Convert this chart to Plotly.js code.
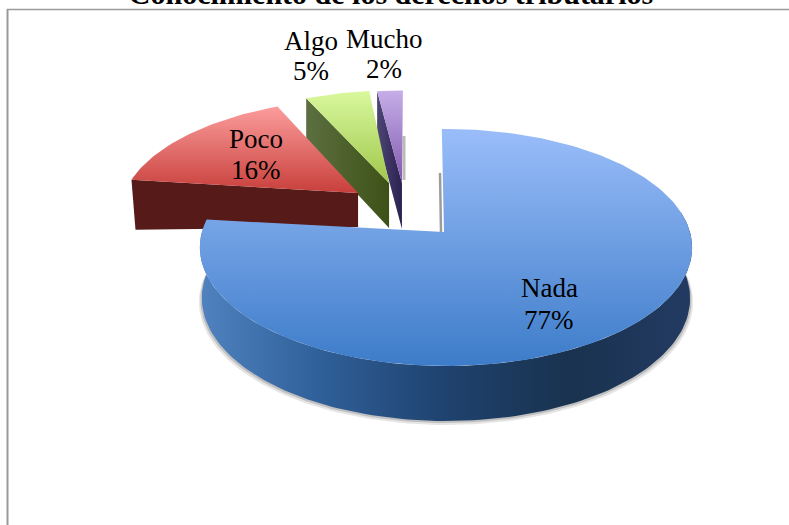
<!DOCTYPE html>
<html><head><meta charset="utf-8">
<script src="https://cdn.plot.ly/plotly-3.0.1.min.js"></script>
<style>html,body{margin:0;padding:0;background:#fff;overflow:hidden}</style>
</head><body><div id="chart" style="width:789px;height:525px"></div>
<script>
// Data
const categories = ["Nada", "Poco", "Algo", "Mucho"];
const values = [77, 16, 5, 2];
const chartTitle = "Conocimiento de los derechos tributarios";

// Styles
const topColors = [["#9abdf9","#3d7cc9"],["#fb9d9c","#c83f3b"],["#d9f89d","#a0c74c"],["#c6aee8","#8058ae"]];
const sideColors = [["#4f82bf","#2f5f98","#1f426e","#19324f","#233b62"],["#561b18","#561b18"],["#5c6f40","#3d5117"],["#4d4674","#2b2150"]];
const TEXT_FONT = "Liberation Serif";

// Projection of the tilted pie plane onto the drawing area
const view = {x0:443, y0:232, a:244, k:116.5, p:0.1308};
const pullOffsets = [[0.012,0],[-0.364,0.35],[-0.234,0.445],[-0.178,0.445]];
const rotations = [-1,0,0,-1];
const depths = [null,[50,34,4],[41,45,0],[45,46,0]];
const labelAt = [[549,288,320],[256,139,170],[311,41,71],[384,39,69]];

function project(u,v){const d=1+view.p*v;return [view.x0+view.a*u/d, view.y0-view.k*v/d];}
function rimPoint(deg,off){const r=deg*Math.PI/180;return project(Math.sin(r)+off[0],Math.cos(r)+off[1]);}
function arc(a0,a1,off){const n=Math.max(4,Math.ceil(Math.abs(a1-a0)/1.5));const o=[];for(let i=0;i<=n;i++)o.push(rimPoint(a0+(a1-a0)*i/n,off));return o;}
function scale(cols){return cols.map((c,i)=>[i/(cols.length-1),c]);}
function poly(pts,grad,extra){
  const t={type:"scatter",mode:"lines",x:pts.map(p=>p[0]).concat(pts[0][0]),y:pts.map(p=>p[1]).concat(pts[0][1]),
    fill:"toself",line:{width:0},hoverinfo:"skip",showlegend:false};
  if(grad)t.fillgradient=grad;
  return Object.assign(t,extra||{});
}
function nadaBottom(p,deg){
  const v=Math.cos(deg*Math.PI/180);
  return [view.x0+3+(p[0]-view.x0-3)*0.992, p[1]+50+5*Math.max(0,-v)];
}

const total=values.reduce((a,b)=>a+b,0);
const spans=[];let acc=0;values.forEach((v,i)=>{const s=acc/total*360+rotations[i];acc+=v;spans.push([s,acc/total*360+rotations[i]]);});

const traces=[];
// exploded slices, back to front, then the big slice
[3,2,1].forEach(i=>{
  const off=pullOffsets[i],[a0,a1]=spans[i],[dr,da,dx]=depths[i];
  const rim=rimPoint(a0,off),apex=project(off[0],off[1]);
  traces.push(poly([rim,apex,[apex[0],apex[1]+da],[rim[0]+dx,rim[1]+dr]],{type:"horizontal",colorscale:scale(sideColors[i])}));
  traces.push(poly([apex].concat(arc(a0,a1,off)),{type:"vertical",colorscale:scale(topColors[i].slice().reverse())}));
});
// cut shadows
traces.push({type:"scatter",mode:"lines",x:[view.x0-3,view.x0-2],y:[view.y0-59,view.y0],line:{color:"rgba(90,90,90,0.6)",width:2.5},hoverinfo:"skip",showlegend:false});
traces.push({type:"scatter",mode:"lines",x:[404,404],y:[136,180],line:{color:"rgba(120,120,120,0.5)",width:3},hoverinfo:"skip",showlegend:false});
// big slice shadow, side and top
const [n0,n1]=spans[0];
const sideAngles=[];for(let d=80;d<=n1;d+=1.5)sideAngles.push(d);sideAngles.push(n1);
const topEdge=sideAngles.map(d=>rimPoint(d,pullOffsets[0]));
const botEdge=sideAngles.map((d,i)=>nadaBottom(topEdge[i],d));
[[1.012,4,0.10],[1.006,2,0.16]].forEach(s=>{
  const grown=botEdge.map(p=>[view.x0+3+(p[0]-view.x0-3)*s[0],p[1]+s[1]]);
  traces.push(poly(topEdge.concat(grown.slice().reverse()),null,{fillcolor:"rgba(0,0,0,"+s[2]+")"}));
});
traces.push(poly(topEdge.concat(botEdge.slice().reverse()),{type:"horizontal",colorscale:scale(sideColors[0])}));
traces.push(poly([[view.x0+1,view.y0]].concat(arc(n0,n1,pullOffsets[0])),{type:"vertical",colorscale:scale(topColors[0].slice().reverse())}));

const annotations=[];
categories.forEach((c,i)=>{
  const pct=Math.round(values[i]/total*100)+"%";
  [[c,labelAt[i][1]],[pct,labelAt[i][2]]].forEach(l=>annotations.push({
    xref:"x",yref:"y",x:labelAt[i][0],y:l[1],text:l[0],showarrow:false,xanchor:"center",yanchor:"middle",
    font:{family:TEXT_FONT,size:27,color:"#000"}}));
});

const layout={
  width:789,height:525,margin:{l:0,r:0,t:0,b:0},paper_bgcolor:"#fff",plot_bgcolor:"#fff",showlegend:false,
  title:{text:"<b>"+chartTitle+"</b>",font:{family:TEXT_FONT,size:30,color:"#000"},x:391/789,xanchor:"center",xref:"paper",yref:"container",y:1,yanchor:"top",pad:{t:-17}},
  xaxis:{range:[0,789],visible:false,fixedrange:true},
  yaxis:{range:[525,0],visible:false,fixedrange:true},
  shapes:[
    {type:"line",xref:"x",yref:"y",x0:7,x1:789,y0:9.5,y1:9.5,line:{color:"#9a9a9a",width:1.5},layer:"below"},
    {type:"line",xref:"x",yref:"y",x0:7.5,x1:7.5,y0:9,y1:525,line:{color:"#9a9a9a",width:2},layer:"below"}
  ],
  annotations:annotations
};
Plotly.newPlot("chart",traces,layout,{displayModeBar:false,staticPlot:true});
</script></body></html>
